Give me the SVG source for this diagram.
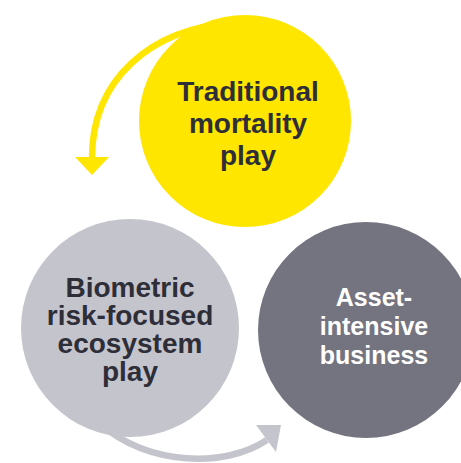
<svg xmlns="http://www.w3.org/2000/svg" width="461" height="463" viewBox="0 0 461 463">
  <style>
    .label { font-family: "Liberation Sans", Arial, sans-serif; font-weight: bold; text-anchor: middle; }
    .dark { fill: #2e2e38; font-size: 28px; }
    .light { fill: #ffffff; font-size: 25px; }
    .flow { fill: none; stroke-width: 6.5; stroke-linecap: butt; }
  </style>
  <rect width="461" height="463" fill="#ffffff"/>

  <g id="connectors">
    <!-- yellow loop from the top circle back down to the left -->
    <path class="flow" stroke="#ffe600" d="M 234 23 C 150 28, 92 80, 92 158"/>
    <polygon fill="#ffe600" points="75,157 109,157 92,175"/>
    <!-- grey sweep from the left circle to the right one -->
    <path class="flow" stroke="#c4c4cd" d="M 100 424 C 150 466, 225 468, 267 440"/>
    <polygon fill="#c4c4cd" points="256,425 281,425 276,452"/>
  </g>

  <g id="node-traditional">
    <circle cx="245" cy="121" r="106" fill="#ffe600"/>
    <text class="label dark" x="248" y="101">Traditional</text>
    <text class="label dark" x="248" y="133">mortality</text>
    <text class="label dark" x="248" y="165">play</text>
  </g>

  <g id="node-biometric">
    <circle cx="130" cy="328" r="109" fill="#c4c4cd"/>
    <text class="label dark" x="130" y="297">Biometric</text>
    <text class="label dark" x="130" y="325">risk-focused</text>
    <text class="label dark" x="130" y="353">ecosystem</text>
    <text class="label dark" x="130" y="381">play</text>
  </g>

  <g id="node-asset">
    <circle cx="366" cy="330" r="108" fill="#747480"/>
    <text class="label light" x="374" y="306">Asset-</text>
    <text class="label light" x="374" y="335">intensive</text>
    <text class="label light" x="374" y="364">business</text>
  </g>
</svg>
